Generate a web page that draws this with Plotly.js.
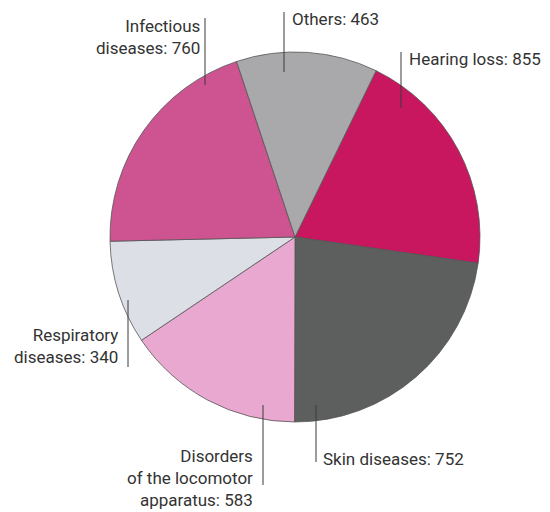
<!DOCTYPE html>
<html>
<head>
<meta charset="utf-8">
<script src="https://cdn.plot.ly/plotly-3.0.1.min.js"></script>
<style>html,body{margin:0;padding:0;background:#fff;}#chart{width:550px;height:512px;}</style>
</head>
<body>
<div id="chart"></div>
<script>
// Data
var categories = ['Hearing loss', 'Skin diseases', 'Disorders of the locomotor apparatus', 'Respiratory diseases', 'Infectious diseases', 'Others'];
var labelText = ['Hearing loss', 'Skin diseases', 'Disorders<br>of the locomotor<br>apparatus', 'Respiratory<br>diseases', 'Infectious<br>diseases', 'Others'];
// Values as printed on the labels
var values = [855, 752, 583, 340, 760, 463];
// Slice sizes as actually drawn in the reference picture (the hearing-loss and
// skin-disease wedges are drawn with each other's size)
var sliceValues = [752, 855, 583, 340, 760, 463];
var colors = ['#c8175f', '#5d5f5f', '#e9a8cf', '#dcdfe5', '#cd5491', '#a9a9ab'];

// Label placement (pixels): [x, y, xanchor]
var labelPos = [
  [407, 59, 'left'],
  [321, 459, 'left'],
  [255, 478, 'right'],
  [120, 346, 'right'],
  [202, 37, 'right'],
  [290, 19, 'left']
];
// Leader lines (pixels): [x, y0, y1]
var leaders = [
  [401, 52, 108],
  [316, 405, 462],
  [263, 405, 485],
  [128, 300, 367],
  [205, 18, 85],
  [284, 12, 72]
];

var W = 550, H = 512;
function px(x) { return x / W; }
function py(y) { return 1 - y / H; }

var cx = 295, cy = 237, r = 185;

var trace = {
  type: 'pie',
  labels: categories,
  values: sliceValues,
  sort: false,
  direction: 'clockwise',
  rotation: 26,
  textinfo: 'none',
  hoverinfo: 'label',
  marker: { colors: colors, line: { color: '#555555', width: 0.8 } },
  domain: { x: [px(cx - r), px(cx + r)], y: [py(cy + r), py(cy - r)] },
  showlegend: false
};

var annotations = categories.map(function (c, i) {
  return {
    xref: 'paper', yref: 'paper',
    x: px(labelPos[i][0]), y: py(labelPos[i][1]),
    xanchor: labelPos[i][2], yanchor: 'middle',
    align: labelPos[i][2],
    text: labelText[i] + ': ' + values[i],
    showarrow: false,
    font: { family: 'Roboto, sans-serif', size: 17, color: '#333333' }
  };
});

var shapes = leaders.map(function (l) {
  return {
    type: 'line', xref: 'paper', yref: 'paper',
    x0: px(l[0]), x1: px(l[0]), y0: py(l[1]), y1: py(l[2]),
    line: { color: '#3a3a3a', width: 1 }
  };
});

var layout = {
  width: W, height: H,
  margin: { l: 0, r: 0, t: 0, b: 0 },
  paper_bgcolor: '#ffffff',
  plot_bgcolor: '#ffffff',
  annotations: annotations,
  shapes: shapes,
  showlegend: false
};

Plotly.newPlot('chart', [trace], layout, { displayModeBar: false, staticPlot: true });
</script>
</body>
</html>
